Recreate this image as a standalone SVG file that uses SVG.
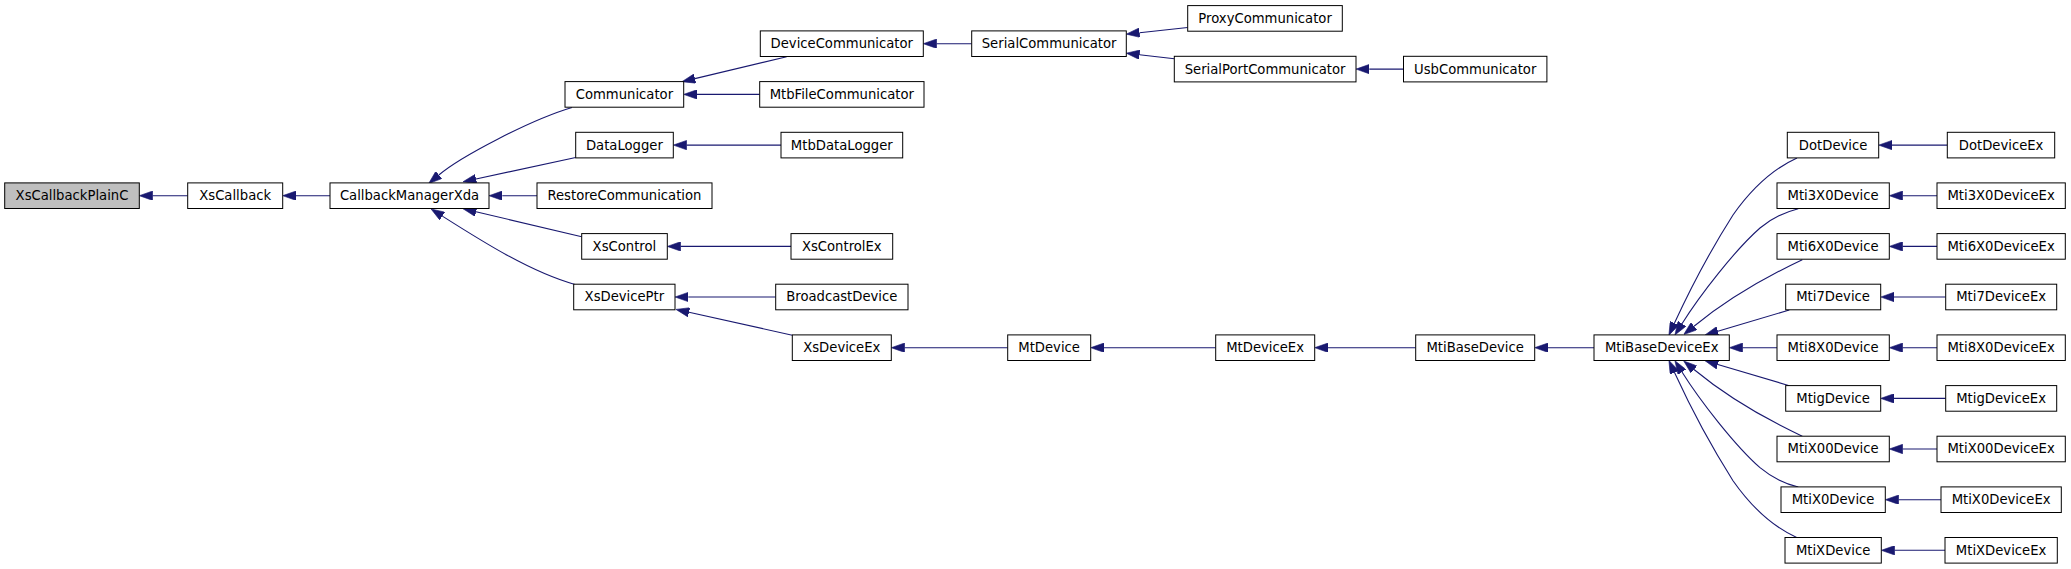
<svg xmlns="http://www.w3.org/2000/svg" width="2071" height="569" viewBox="0 0 2071 569">
<style>
  rect { fill: #ffffff; stroke: #000000; stroke-width: 1; }
  #XsCallbackPlainC rect { fill: #bfbfbf; }
  text { font-family: "DejaVu Sans", "Liberation Sans", sans-serif; font-size: 13.2px; fill: #000000; text-anchor: middle; }
  #edges path { fill: none; stroke: #191970; stroke-width: 1.1; marker-start: url(#arr); }
</style>
<defs>
  <marker id="arr" markerUnits="userSpaceOnUse" markerWidth="13.3" markerHeight="9.4" viewBox="0 0 13.3 9.4" refX="0" refY="4.7" orient="auto-start-reverse">
    <path d="M0,0 L13.3,4.7 L0,9.4 z" fill="#191970" stroke="#191970" stroke-width="0.6"/>
  </marker>
</defs>
<rect x="0" y="0" width="2071" height="569" style="fill:#ffffff;stroke:none"/>

<g id="edges">
  <path d="M152.6,195.7 H187.7"/>
  <path d="M296,195.7 H330"/>
  <path d="M438.8,175 C460,157 530,120 572,107.5"/>
  <path d="M476,179 L575.7,157.5"/>
  <path d="M502.3,195.7 H537"/>
  <path d="M476,211.8 L581.7,236.7"/>
  <path d="M442.3,216.1 C480,240 530,272 575,284.5"/>
  <path d="M694.9,78.6 L786.7,56.7"/>
  <path d="M697,94.4 H759.7"/>
  <path d="M686.6,145.1 H781"/>
  <path d="M680.6,246.4 H791"/>
  <path d="M688.3,297 H775.7"/>
  <path d="M689,312.3 L792.3,335.2"/>
  <path d="M936.6,43.7 H971.7"/>
  <path d="M904.6,347.7 H1007.7"/>
  <path d="M1139.5,32.7 L1187.7,27.5"/>
  <path d="M1139.5,54.7 L1174.3,58.7"/>
  <path d="M1369.3,69.1 H1403.5"/>
  <path d="M1104,347.7 H1215.7"/>
  <path d="M1328,347.7 H1415.7"/>
  <path d="M1548,347.7 H1594"/>
  <path d="M1674.5,323.1 C1692,285 1712,248 1733,215 C1752,188 1775,168 1797,158"/>
  <path d="M1682,323.7 C1700,295 1735,250 1760,228 C1772,218 1785,212 1798.3,208.7"/>
  <path d="M1694,326.2 C1720,305 1755,282 1802.3,259.7"/>
  <path d="M1717.8,331.2 L1789.3,310"/>
  <path d="M1742.6,347.7 H1777"/>
  <path d="M1717.8,364.5 L1789.3,385.7"/>
  <path d="M1694,369.5 C1720,391 1755,414 1802.3,436.2"/>
  <path d="M1682,372 C1700,400.7 1735,445.7 1760,467.7 C1772,477.7 1785,484 1798.3,487"/>
  <path d="M1674.5,372.6 C1692,410.7 1712,447.7 1733,480.7 C1752,507.7 1775,527.7 1796.7,537.5"/>
  <path d="M1892,145.1 H1947.3"/>
  <path d="M1902.6,195.7 H1937"/>
  <path d="M1902.6,246.4 H1937"/>
  <path d="M1894,297 H1945.7"/>
  <path d="M1902.6,347.7 H1937"/>
  <path d="M1894,398.4 H1945.7"/>
  <path d="M1902.6,449 H1937"/>
  <path d="M1898.6,499.7 H1941"/>
  <path d="M1894.6,550.3 H1945"/>
</g>

<g id="XsCallbackPlainC"><rect x="4.7" y="182.9" width="134.6" height="25.6"/><text x="72" y="200.1">XsCallbackPlainC</text></g>
<g id="XsCallback"><rect x="187.7" y="182.9" width="95" height="25.6"/><text x="235.2" y="200.1">XsCallback</text></g>
<g id="CallbackManagerXda"><rect x="330" y="182.9" width="159" height="25.6"/><text x="409.5" y="200.1">CallbackManagerXda</text></g>

<g id="Communicator"><rect x="565" y="81.6" width="118.7" height="25.6"/><text x="624.4" y="98.8">Communicator</text></g>
<g id="DataLogger"><rect x="575.7" y="132.3" width="97.6" height="25.6"/><text x="624.4" y="149.5">DataLogger</text></g>
<g id="RestoreCommunication"><rect x="537" y="182.9" width="175" height="25.6"/><text x="624.4" y="200.1">RestoreCommunication</text></g>
<g id="XsControl"><rect x="581.7" y="233.6" width="85.6" height="25.6"/><text x="624.4" y="250.8">XsControl</text></g>
<g id="XsDevicePtr"><rect x="573.7" y="284.2" width="101.3" height="25.6"/><text x="624.4" y="301.4">XsDevicePtr</text></g>

<g id="DeviceCommunicator"><rect x="760.3" y="30.9" width="163" height="25.6"/><text x="841.8" y="48.1">DeviceCommunicator</text></g>
<g id="MtbFileCommunicator"><rect x="759.7" y="81.6" width="164.3" height="25.6"/><text x="841.8" y="98.8">MtbFileCommunicator</text></g>
<g id="MtbDataLogger"><rect x="781" y="132.3" width="121.7" height="25.6"/><text x="841.8" y="149.5">MtbDataLogger</text></g>
<g id="XsControlEx"><rect x="791" y="233.6" width="101.7" height="25.6"/><text x="841.8" y="250.8">XsControlEx</text></g>
<g id="BroadcastDevice"><rect x="775.7" y="284.2" width="132.3" height="25.6"/><text x="841.8" y="301.4">BroadcastDevice</text></g>
<g id="XsDeviceEx"><rect x="792.3" y="334.9" width="99" height="25.6"/><text x="841.8" y="352.1">XsDeviceEx</text></g>

<g id="SerialCommunicator"><rect x="971.7" y="30.9" width="154.6" height="25.6"/><text x="1049.1" y="48.1">SerialCommunicator</text></g>
<g id="MtDevice"><rect x="1007.7" y="334.9" width="83" height="25.6"/><text x="1049.1" y="352.1">MtDevice</text></g>

<g id="ProxyCommunicator"><rect x="1187.7" y="5.6" width="154.6" height="25.6"/><text x="1265.1" y="22.8">ProxyCommunicator</text></g>
<g id="SerialPortCommunicator"><rect x="1174.3" y="56.3" width="181.7" height="25.6"/><text x="1265.1" y="73.5">SerialPortCommunicator</text></g>
<g id="MtDeviceEx"><rect x="1215.7" y="334.9" width="99" height="25.6"/><text x="1265.1" y="352.1">MtDeviceEx</text></g>

<g id="UsbCommunicator"><rect x="1403.5" y="56.3" width="143.4" height="25.6"/><text x="1475.2" y="73.5">UsbCommunicator</text></g>
<g id="MtiBaseDevice"><rect x="1415.7" y="334.9" width="119" height="25.6"/><text x="1475.2" y="352.1">MtiBaseDevice</text></g>

<g id="MtiBaseDeviceEx"><rect x="1594" y="334.9" width="135.3" height="25.6"/><text x="1661.7" y="352.1">MtiBaseDeviceEx</text></g>

<g id="DotDevice"><rect x="1787.3" y="132.3" width="91.4" height="25.6"/><text x="1833.1" y="149.5">DotDevice</text></g>
<g id="Mti3X0Device"><rect x="1777" y="182.9" width="112.3" height="25.6"/><text x="1833.1" y="200.1">Mti3X0Device</text></g>
<g id="Mti6X0Device"><rect x="1777" y="233.6" width="112.3" height="25.6"/><text x="1833.1" y="250.8">Mti6X0Device</text></g>
<g id="Mti7Device"><rect x="1785.7" y="284.2" width="95" height="25.6"/><text x="1833.1" y="301.4">Mti7Device</text></g>
<g id="Mti8X0Device"><rect x="1777" y="334.9" width="112.3" height="25.6"/><text x="1833.1" y="352.1">Mti8X0Device</text></g>
<g id="MtigDevice"><rect x="1785.7" y="385.6" width="95" height="25.6"/><text x="1833.1" y="402.8">MtigDevice</text></g>
<g id="MtiX00Device"><rect x="1777" y="436.2" width="112.3" height="25.6"/><text x="1833.1" y="453.4">MtiX00Device</text></g>
<g id="MtiX0Device"><rect x="1781" y="486.9" width="104.3" height="25.6"/><text x="1833.1" y="504.1">MtiX0Device</text></g>
<g id="MtiXDevice"><rect x="1785" y="537.5" width="96.3" height="25.6"/><text x="1833.1" y="554.7">MtiXDevice</text></g>

<g id="DotDeviceEx"><rect x="1947.3" y="132.3" width="107.4" height="25.6"/><text x="2001.1" y="149.5">DotDeviceEx</text></g>
<g id="Mti3X0DeviceEx"><rect x="1937" y="182.9" width="128.3" height="25.6"/><text x="2001.1" y="200.1">Mti3X0DeviceEx</text></g>
<g id="Mti6X0DeviceEx"><rect x="1937" y="233.6" width="128.3" height="25.6"/><text x="2001.1" y="250.8">Mti6X0DeviceEx</text></g>
<g id="Mti7DeviceEx"><rect x="1945.7" y="284.2" width="111" height="25.6"/><text x="2001.1" y="301.4">Mti7DeviceEx</text></g>
<g id="Mti8X0DeviceEx"><rect x="1937" y="334.9" width="128.3" height="25.6"/><text x="2001.1" y="352.1">Mti8X0DeviceEx</text></g>
<g id="MtigDeviceEx"><rect x="1945.7" y="385.6" width="111" height="25.6"/><text x="2001.1" y="402.8">MtigDeviceEx</text></g>
<g id="MtiX00DeviceEx"><rect x="1937" y="436.2" width="128.3" height="25.6"/><text x="2001.1" y="453.4">MtiX00DeviceEx</text></g>
<g id="MtiX0DeviceEx"><rect x="1941" y="486.9" width="120.3" height="25.6"/><text x="2001.1" y="504.1">MtiX0DeviceEx</text></g>
<g id="MtiXDeviceEx"><rect x="1945" y="537.5" width="112.3" height="25.6"/><text x="2001.1" y="554.7">MtiXDeviceEx</text></g>
</svg>
